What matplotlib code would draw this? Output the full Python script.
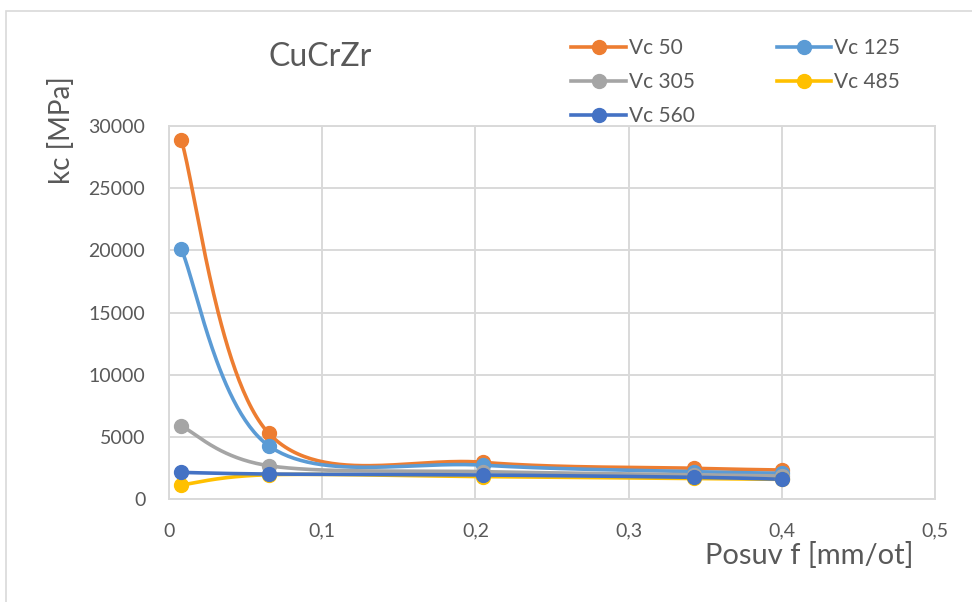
import numpy as np
import matplotlib
matplotlib.use("Agg")
import matplotlib.pyplot as plt
from matplotlib.lines import Line2D

plt.rcParams['font.family'] = ['Lato', 'DejaVu Sans']

# Feed values f [mm/ot]
feed = [0.008, 0.065, 0.205, 0.343, 0.4]

# Specific cutting force kc [MPa] for each cutting speed
kc_vc50 = [28900, 5300, 2950, 2470, 2330]
kc_vc125 = [20100, 4290, 2720, 2200, 2070]
kc_vc305 = [5870, 2680, 2200, 1950, 1850]
kc_vc485 = [1130, 1950, 1800, 1650, 1580]
kc_vc560 = [2140, 2010, 1930, 1745, 1590]

series_labels = ["Vc 50", "Vc 125", "Vc 305", "Vc 485", "Vc 560"]
series_colors = ["#ED7D31", "#5B9BD5", "#A5A5A5", "#FFC000", "#4472C4"]

x_ticks = [0, 0.1, 0.2, 0.3, 0.4, 0.5]
x_tick_labels = ["0", "0,1", "0,2", "0,3", "0,4", "0,5"]
y_ticks = [0, 5000, 10000, 15000, 20000, 25000, 30000]

TEXT = "#595959"
GRID = "#D9D9D9"


def smooth_curve(xs, ys, n=60):
    """Bezier smoothing through every point (Catmull-Rom style control points)."""
    pts = np.column_stack([xs, ys]).astype(float)
    out = []
    m = len(pts)
    for i in range(m - 1):
        p0 = pts[i - 1] if i > 0 else pts[i]
        p1 = pts[i]
        p2 = pts[i + 1]
        p3 = pts[i + 2] if i + 2 < m else pts[i + 1]
        c1 = p1 + (p2 - p0) / 6.0
        c2 = p2 - (p3 - p1) / 6.0
        t = np.linspace(0, 1, n)[:, None]
        seg = ((1 - t) ** 3) * p1 + 3 * ((1 - t) ** 2) * t * c1 + 3 * (1 - t) * t ** 2 * c2 + t ** 3 * p2
        out.append(seg if i == 0 else seg[1:])
    curve = np.vstack(out)
    return curve[:, 0], curve[:, 1]


fig = plt.figure(figsize=(9.72, 6.02), dpi=100)
fig.patches.append(plt.Rectangle((6 / 972, -0.01), 1.2, 1 - 11 / 602 + 0.01,
                                 transform=fig.transFigure, fill=False,
                                 edgecolor=GRID, linewidth=1.2))

ax = fig.add_axes([169 / 972, 1 - 499 / 602, 766 / 972, 373 / 602])

all_series = [kc_vc50, kc_vc125, kc_vc305, kc_vc485, kc_vc560]
handles = []
for vals, lab, col in zip(all_series, series_labels, series_colors):
    sx, sy = smooth_curve(feed, vals)
    ax.plot(sx, sy, color=col, linewidth=2.6, solid_capstyle='round', zorder=3)
    ax.plot(feed, vals, linestyle='none', marker='o', markersize=10,
            color=col, zorder=4)
    handles.append(Line2D([], [], color=col, linewidth=2.6, marker='o', markersize=10))

ax.set_xlim(0, 0.5)
ax.set_ylim(0, 30000)
ax.set_xticks(x_ticks)
ax.set_xticklabels(x_tick_labels)
ax.set_yticks(y_ticks)
ax.grid(True, color=GRID, linewidth=1.4)
ax.set_axisbelow(True)
for sp in ax.spines.values():
    sp.set_color(GRID)
    sp.set_linewidth(1.4)
ax.tick_params(axis='both', length=0, labelsize=14, labelcolor=TEXT)
ax.tick_params(axis='y', pad=17)
ax.tick_params(axis='x', pad=17)

fig.text(320 / 972, 1 - 57 / 602, "CuCrZr", ha='center', va='center',
         fontsize=23, color=TEXT)
fig.text(62 / 972, 1 - 130 / 602, "kc [MPa]", ha='center', va='center',
         rotation=90, fontsize=20, color=TEXT)
fig.text(913 / 972, 1 - 555 / 602, "Posuv f [mm/ot]", ha='right', va='center',
         fontsize=21, color=TEXT)

order = [0, 2, 4, 1, 3]
leg = fig.legend([handles[i] for i in order], [series_labels[i] for i in order],
                 ncol=2, loc='upper left', bbox_to_anchor=(561 / 972, 1 - 28 / 602),
                 frameon=False, fontsize=15, handlelength=2.6, handletextpad=0.15,
                 columnspacing=3.95, labelspacing=0.66, borderpad=0)
for t in leg.get_texts():
    t.set_color(TEXT)

fig.savefig("out.png", dpi=100)
